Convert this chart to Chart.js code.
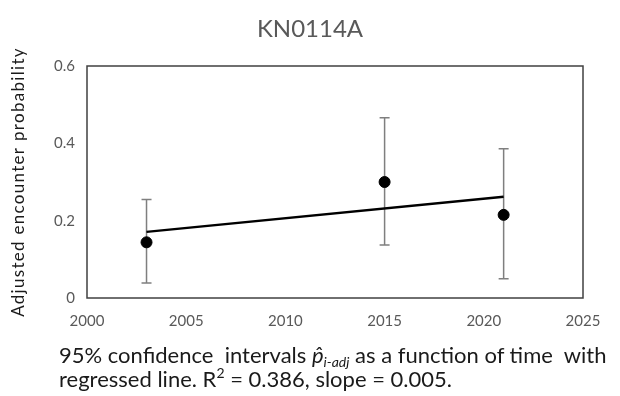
<!DOCTYPE html>
<html>
<head>
<meta charset="utf-8">
<script src="https://cdn.jsdelivr.net/npm/chart.js@4.4.1/dist/chart.umd.min.js"></script>
<style>
  html, body { margin: 0; padding: 0; background: #fff; }
  #wrap { position: relative; width: 620px; height: 396px; }
  #c { position: absolute; left: 0; top: 0; }
  #title { position: absolute; left: 0; width: 620px; top: 13px; text-align: center;
           font-family: Lato, "Noto Sans", sans-serif; font-size: 24px; line-height: 30px; color: #595959; }
  #caption { position: absolute; left: 59px; top: 343px; font-family: Lato, "Noto Sans", sans-serif;
             font-size: 22px; line-height: 24px; color: #1a1a1a; white-space: nowrap; }
  #caption sub { font-size: 14px; vertical-align: -4px; line-height: 0; }
  #caption sup { font-size: 14px; vertical-align: 9px; line-height: 0; }
</style>
</head>
<body>
<div id="wrap">
  <canvas id="c" width="620" height="396"></canvas>
  <div id="title"></div>
  <div id="caption">95% confidence&nbsp; intervals <i>p̂</i><sub><i>i-adj</i></sub> as a function of time&nbsp; with<br>regressed line. R<sup>2</sup> = 0.386, slope = 0.005.</div>
</div>
<script>
// ---- data ----
const chartTitle = "KN0114A";
const yAxisTitle = "Adjusted encounter probability";
const years = [2003, 2015, 2021];
const pAdj = [0.144, 0.300, 0.215];
const ciLower = [0.039, 0.137, 0.050];
const ciUpper = [0.255, 0.466, 0.386];
const fitYears = [2003, 2021];
const fitValues = [0.171, 0.262];

document.getElementById('title').textContent = chartTitle;

const FONT = "Lato, 'Noto Sans', sans-serif";

const errorBars = {
  id: 'errorBars',
  beforeDatasetsDraw(chart) {
    const { ctx, scales: { x, y } } = chart;
    ctx.save();
    ctx.strokeStyle = '#7f7f7f';
    ctx.lineWidth = 1.5;
    years.forEach((yr, i) => {
      const px = x.getPixelForValue(yr);
      const top = y.getPixelForValue(ciUpper[i]);
      const bot = y.getPixelForValue(ciLower[i]);
      ctx.beginPath();
      ctx.moveTo(px, top); ctx.lineTo(px, bot);
      ctx.moveTo(px - 5, top); ctx.lineTo(px + 5, top);
      ctx.moveTo(px - 5, bot); ctx.lineTo(px + 5, bot);
      ctx.stroke();
    });
    ctx.restore();
  }
};

const frame = {
  id: 'frame',
  afterDraw(chart) {
    const { ctx, chartArea: a } = chart;
    ctx.save();
    ctx.strokeStyle = '#404040';
    ctx.lineWidth = 1.5;
    ctx.strokeRect(a.left, a.top, a.right - a.left, a.bottom - a.top);
    // rotated y-axis title with letter spacing
    ctx.translate(19, (a.top + a.bottom) / 2);
    ctx.rotate(-Math.PI / 2);
    ctx.font = "17px " + FONT;
    ctx.letterSpacing = "1.3px";
    ctx.fillStyle = '#1a1a1a';
    ctx.textAlign = 'center';
    ctx.textBaseline = 'middle';
    ctx.fillText(yAxisTitle, 0, 0);
    ctx.restore();
  }
};

new Chart(document.getElementById('c'), {
  type: 'scatter',
  data: {
    datasets: [
      {
        label: 'p_adj',
        data: years.map((yr, i) => ({ x: yr, y: pAdj[i] })),
        backgroundColor: '#000',
        borderColor: '#000',
        pointRadius: 5.5,
        order: 1
      },
      {
        label: 'fit',
        type: 'line',
        data: fitYears.map((yr, i) => ({ x: yr, y: fitValues[i] })),
        borderColor: '#000',
        borderWidth: 2.5,
        pointRadius: 0,
        fill: false,
        order: 2
      }
    ]
  },
  options: {
    responsive: false,
    animation: false,
    events: [],
    layout: { padding: { left: 0, right: 37, top: 66, bottom: 70 } },
    plugins: {
      legend: { display: false },
      tooltip: { enabled: false },
      title: { display: false }
    },
    scales: {
      x: {
        type: 'linear',
        min: 2000, max: 2025,
        grid: { display: false, drawTicks: false },
        border: { display: false },
        ticks: { stepSize: 5, color: '#595959', font: { family: FONT, size: 15 }, padding: 14,
                 callback: v => String(v) },
        afterFit: s => { s.height = 28; }
      },
      y: {
        min: 0, max: 0.6,
        grid: { display: false, drawTicks: false },
        border: { display: false },
        ticks: { stepSize: 0.2, color: '#595959', font: { family: FONT, size: 15 }, padding: 12,
                 callback: v => (Math.round(v * 10) / 10).toString() },
        afterFit: s => { s.width = 87; }
      }
    }
  },
  plugins: [errorBars, frame]
});
</script>
</body>
</html>
